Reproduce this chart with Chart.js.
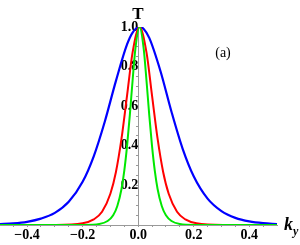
<!DOCTYPE html>
<html>
<head>
<meta charset="utf-8">
<script src="https://cdn.jsdelivr.net/npm/chart.js@4.4.1/dist/chart.umd.min.js"></script>
<style>
  html, body { margin: 0; padding: 0; background: #fff; }
  #wrap { width: 300px; height: 245px; position: relative; }
</style>
</head>
<body>
<div id="wrap"><canvas id="transChart"></canvas></div>
<script>
// transmission T vs k_y
const kyBlue = [-0.5, -0.45, -0.4, -0.35, -0.3, -0.25, -0.2, -0.16, -0.12, -0.08, -0.04, -0.02, 0.005, 0.02, 0.04, 0.08, 0.12, 0.16, 0.2, 0.25, 0.3, 0.35, 0.4, 0.45, 0.5];
const tBlue  = [0.004, 0.008, 0.016, 0.032, 0.061, 0.117, 0.218, 0.347, 0.523, 0.728, 0.912, 0.972, 1.0, 0.990, 0.945, 0.779, 0.572, 0.386, 0.246, 0.133, 0.070, 0.036, 0.018, 0.009, 0.005];

const kyRed = [-0.5, -0.3, -0.2, -0.16, -0.13, -0.1, -0.08, -0.06, -0.04, -0.02, 0.005, 0.03, 0.05, 0.07, 0.09, 0.11, 0.14, 0.17, 0.21, 0.31, 0.5];
const tRed  = [0, 0.0004, 0.0085, 0.028, 0.067, 0.158, 0.268, 0.436, 0.654, 0.872, 1.0, 0.872, 0.654, 0.436, 0.268, 0.158, 0.067, 0.028, 0.0085, 0.0004, 0];

const kyGreen = [-0.5, -0.195, -0.14, -0.11, -0.09, -0.075, -0.06, -0.05, -0.04, -0.03, -0.02, -0.01, 0.005, 0.02, 0.03, 0.04, 0.05, 0.06, 0.07, 0.085, 0.1, 0.12, 0.15, 0.205, 0.5];
const tGreen  = [0, 0.0004, 0.005, 0.020, 0.049, 0.096, 0.182, 0.273, 0.398, 0.555, 0.73, 0.89, 1.0, 0.89, 0.73, 0.555, 0.398, 0.273, 0.182, 0.096, 0.049, 0.020, 0.005, 0.0004, 0];

const xMajor = [-0.4, -0.2, 0, 0.2, 0.4];
const xTicks = [-0.45, -0.4, -0.35, -0.3, -0.25, -0.2, -0.15, -0.1, -0.05, 0, 0.05, 0.1, 0.15, 0.2, 0.25, 0.3, 0.35, 0.4, 0.45];
const yMajor = [0.2, 0.4, 0.6, 0.8, 1.0];
const yTicks = [0.05, 0.1, 0.15, 0.2, 0.25, 0.3, 0.35, 0.4, 0.45, 0.5, 0.55, 0.6, 0.65, 0.7, 0.75, 0.8, 0.85, 0.9, 0.95, 1.0];

function pts(xs, ys) {
  return xs.map((x, i) => ({ x: x, y: ys[i] }));
}
function isMajor(list, v) {
  return list.some(m => Math.abs(m - v) < 1e-6);
}
function fmt(v) {
  return (v < -1e-9 ? '\u2212' : '') + Math.abs(v).toFixed(1);
}
function tickLen(list) {
  return c => (c.tick && isMajor(list, c.tick.value)) ? 4 : 2;
}

const labelFont = { family: 'Liberation Serif', size: 14, weight: 'bold' };

const textPlugin = {
  id: 'extraText',
  afterDraw(chart) {
    const c = chart.ctx;
    c.save();
    c.fillStyle = '#000';
    c.textBaseline = 'alphabetic';
    c.textAlign = 'center';
    c.font = 'bold 17px "Liberation Serif"';
    c.fillText('T', 138, 19);
    c.font = '14px "Liberation Serif"';
    c.fillText('(a)', 223, 57);
    c.textAlign = 'left';
    c.font = 'italic bold 18px "Liberation Serif"';
    c.fillText('k', 284, 230);
    c.font = 'italic bold 12px "Liberation Serif"';
    c.fillText('y', 293, 235);
    c.restore();
  }
};

const ctx = document.getElementById('transChart').getContext('2d');
const transChart = new Chart(ctx, {
  type: 'line',
  data: {
    datasets: [
      {
        label: 'green',
        data: pts(kyGreen, tGreen),
        borderColor: '#00e800',
        borderWidth: 2,
        pointRadius: 0,
        cubicInterpolationMode: 'monotone'
      },
      {
        label: 'red',
        data: pts(kyRed, tRed),
        borderColor: '#ff0000',
        borderWidth: 2,
        pointRadius: 0,
        cubicInterpolationMode: 'monotone'
      },
      {
        label: 'blue',
        data: pts(kyBlue, tBlue),
        borderColor: '#0000ff',
        borderWidth: 2.2,
        pointRadius: 0,
        cubicInterpolationMode: 'monotone'
      }
    ]
  },
  options: {
    responsive: true,
    maintainAspectRatio: false,
    animation: false,
    layout: { padding: { left: 0, right: 23, top: 27, bottom: 0 } },
    plugins: {
      legend: { display: false },
      tooltip: { enabled: false }
    },
    scales: {
      x: {
        type: 'linear',
        position: 'bottom',
        min: -0.4975,
        max: 0.5,
        afterBuildTicks: axis => { axis.ticks = xTicks.map(v => ({ value: v })); },
        afterFit: axis => { axis.height = 20; },
        grid: {
          drawOnChartArea: false,
          drawTicks: true,
          tickLength: tickLen(xMajor),
          color: '#999'
        },
        border: { color: '#999', width: 1 },
        ticks: {
          autoSkip: false,
          maxRotation: 0,
          padding: 0,
          color: '#000',
          font: labelFont,
          callback: v => isMajor(xMajor, v) ? fmt(v) : ''
        }
      },
      y: {
        type: 'linear',
        position: { x: 0 },
        min: 0,
        max: 1.0,
        afterBuildTicks: axis => { axis.ticks = yTicks.map(v => ({ value: v })); },
        grid: {
          drawOnChartArea: false,
          drawTicks: true,
          tickLength: tickLen(yMajor),
          color: '#999'
        },
        border: { color: '#999', width: 1 },
        ticks: {
          autoSkip: false,
          padding: 1,
          color: '#000',
          font: labelFont,
          callback: v => isMajor(yMajor, v) ? v.toFixed(1) : ''
        }
      }
    }
  },
  plugins: [textPlugin]
});
</script>
</body>
</html>
